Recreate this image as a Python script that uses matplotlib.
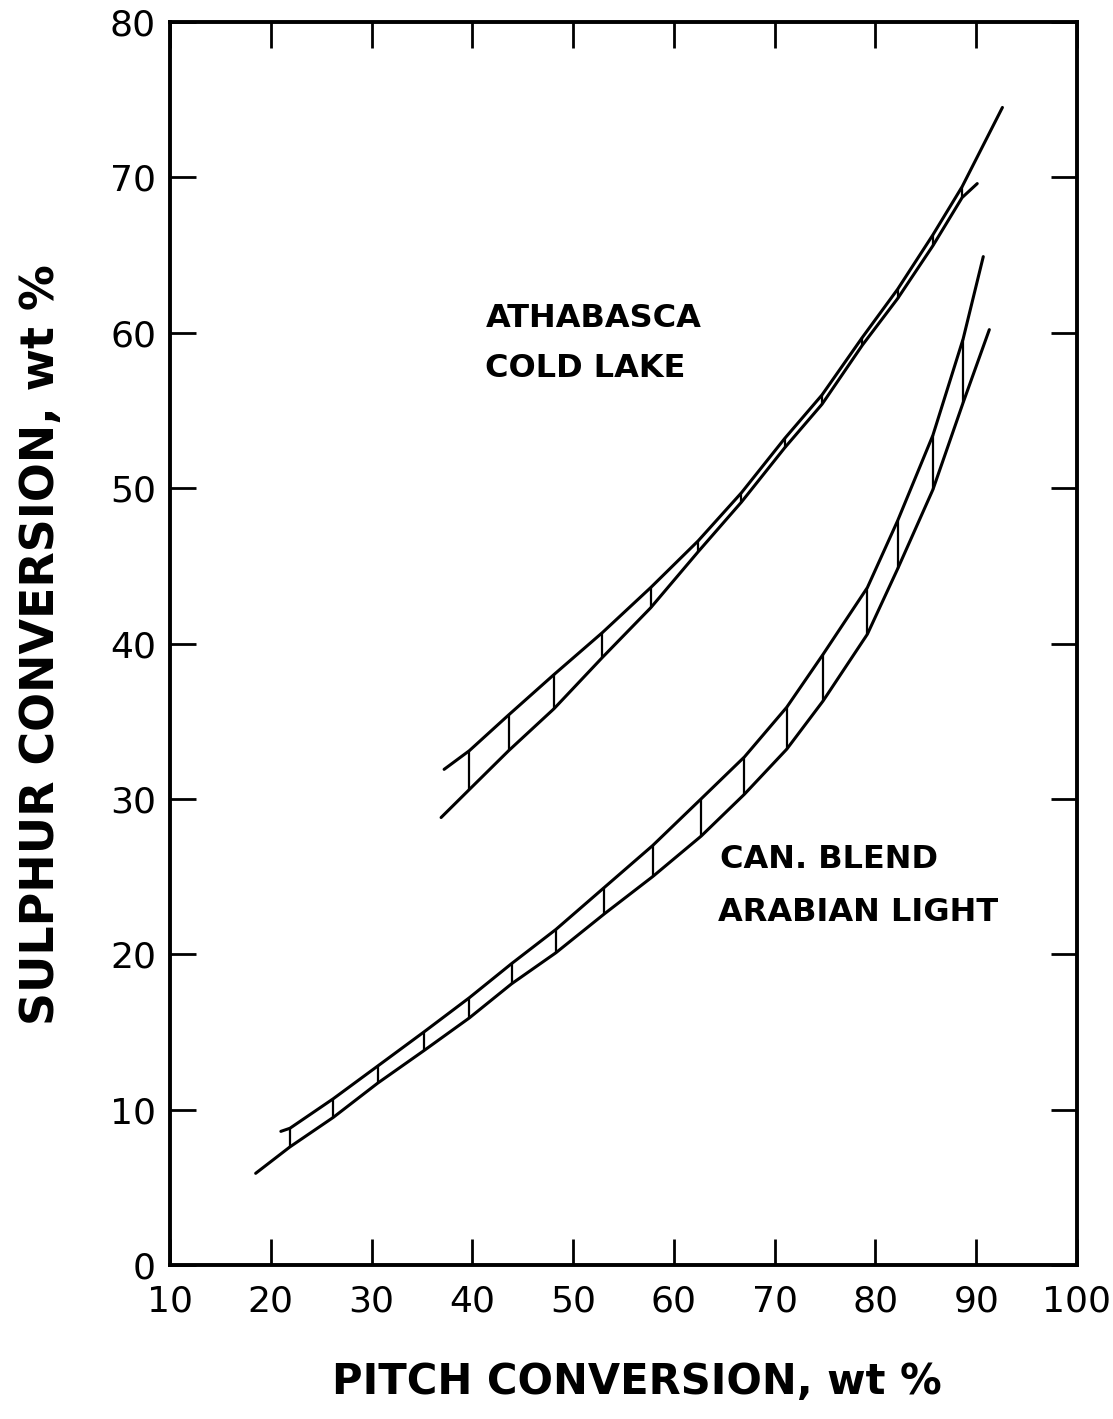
import matplotlib
matplotlib.use("Agg")
import matplotlib.pyplot as plt

# Athabasca / Cold Lake band
ath_upper_x = [37.2, 39.7, 43.6, 48.1, 52.9, 57.7, 62.4, 66.7, 71.0, 74.7, 78.7, 82.2, 85.7, 88.6, 92.6]
ath_upper_y = [31.9, 33.1, 35.4, 38.0, 40.7, 43.6, 46.6, 49.7, 53.2, 56.0, 59.7, 62.8, 66.3, 69.4, 74.5]
ath_lower_x = [36.9, 39.7, 43.6, 48.1, 52.9, 57.7, 62.4, 66.7, 71.0, 74.7, 78.7, 82.2, 85.7, 88.6, 90.1]
ath_lower_y = [28.8, 30.6, 33.1, 35.8, 39.1, 42.3, 45.9, 49.1, 52.6, 55.4, 59.2, 62.2, 65.6, 68.7, 69.6]
ath_hatch_x = [39.7, 43.6, 48.1, 52.9, 57.7, 62.4, 66.7, 71.0, 74.7, 78.7, 82.2, 85.7, 88.6]
ath_hatch_top = [33.1, 35.4, 38.0, 40.7, 43.6, 46.6, 49.7, 53.2, 56.0, 59.7, 62.8, 66.3, 69.4]
ath_hatch_bot = [30.6, 33.1, 35.8, 39.1, 42.3, 45.9, 49.1, 52.6, 55.4, 59.2, 62.2, 65.6, 68.7]

# Can. Blend / Arabian Light band
can_upper_x = [21.0, 21.9, 26.2, 30.6, 35.2, 39.7, 43.9, 48.3, 53.1, 57.9, 62.7, 67.0, 71.2, 74.8, 79.2, 82.2, 85.7, 88.7, 90.7]
can_upper_y = [8.6, 8.8, 10.7, 12.8, 15.0, 17.2, 19.4, 21.6, 24.3, 27.0, 30.0, 32.7, 35.9, 39.3, 43.6, 47.9, 53.4, 59.6, 64.9]
can_lower_x = [18.5, 21.9, 26.2, 30.6, 35.2, 39.7, 43.9, 48.3, 53.1, 57.9, 62.7, 67.0, 71.2, 74.8, 79.2, 82.2, 85.7, 88.7, 91.3]
can_lower_y = [5.9, 7.6, 9.5, 11.7, 13.8, 15.9, 18.1, 20.1, 22.6, 25.0, 27.6, 30.3, 33.2, 36.3, 40.6, 44.8, 49.9, 55.5, 60.2]
can_hatch_x = [21.9, 26.2, 30.6, 35.2, 39.7, 43.9, 48.3, 53.1, 57.9, 62.7, 67.0, 71.2, 74.8, 79.2, 82.2, 85.7, 88.7]
can_hatch_top = [8.8, 10.7, 12.8, 15.0, 17.2, 19.4, 21.6, 24.3, 27.0, 30.0, 32.7, 35.9, 39.3, 43.6, 47.9, 53.4, 59.6]
can_hatch_bot = [7.6, 9.5, 11.7, 13.8, 15.9, 18.1, 20.1, 22.6, 25.0, 27.6, 30.3, 33.2, 36.3, 40.6, 44.8, 49.9, 55.5]

x_ticks = [10, 20, 30, 40, 50, 60, 70, 80, 90, 100]
y_ticks = [0, 10, 20, 30, 40, 50, 60, 70, 80]

fig = plt.figure(figsize=(11.13, 14.19), dpi=100)
ax = fig.add_axes([170 / 1113, 1 - 1265 / 1419, 907 / 1113, 1243 / 1419])

lw = 2.2
for xs, ys in [(ath_upper_x, ath_upper_y), (ath_lower_x, ath_lower_y),
               (can_upper_x, can_upper_y), (can_lower_x, can_lower_y)]:
    ax.plot(xs, ys, color="black", lw=lw, solid_capstyle="round", solid_joinstyle="round")

ax.vlines(ath_hatch_x, ath_hatch_bot, ath_hatch_top, color="black", lw=1.6)
ax.vlines(can_hatch_x, can_hatch_bot, can_hatch_top, color="black", lw=1.6)

lab = dict(fontsize=23, fontweight="bold", ha="left", va="center")
ax.text(41.3, 60.9, "ATHABASCA", **lab)
ax.text(41.3, 57.7, "COLD LAKE", **lab)
ax.text(64.6, 26.1, "CAN. BLEND", **lab)
ax.text(64.4, 22.7, "ARABIAN LIGHT", **lab)

ax.set_xlim(10, 100)
ax.set_ylim(0, 80)
ax.set_xticks(x_ticks)
ax.set_yticks(y_ticks)
ax.tick_params(direction="in", length=19, width=2.0, labelsize=26,
               top=True, right=True, labeltop=False, labelright=False)
ax.tick_params(axis="x", pad=14)
ax.tick_params(axis="y", pad=10)
for s in ax.spines.values():
    s.set_linewidth(2.8)

fig.text(637 / 1113, 1 - 1382 / 1419, "PITCH CONVERSION, wt %", fontsize=30,
         fontweight="bold", ha="center", va="center")
fig.text(42 / 1113, 1 - 645 / 1419, "SULPHUR CONVERSION, wt %", fontsize=33,
         fontweight="bold", ha="center", va="center", rotation=90)

fig.savefig("out.png", dpi=100, facecolor="white")
